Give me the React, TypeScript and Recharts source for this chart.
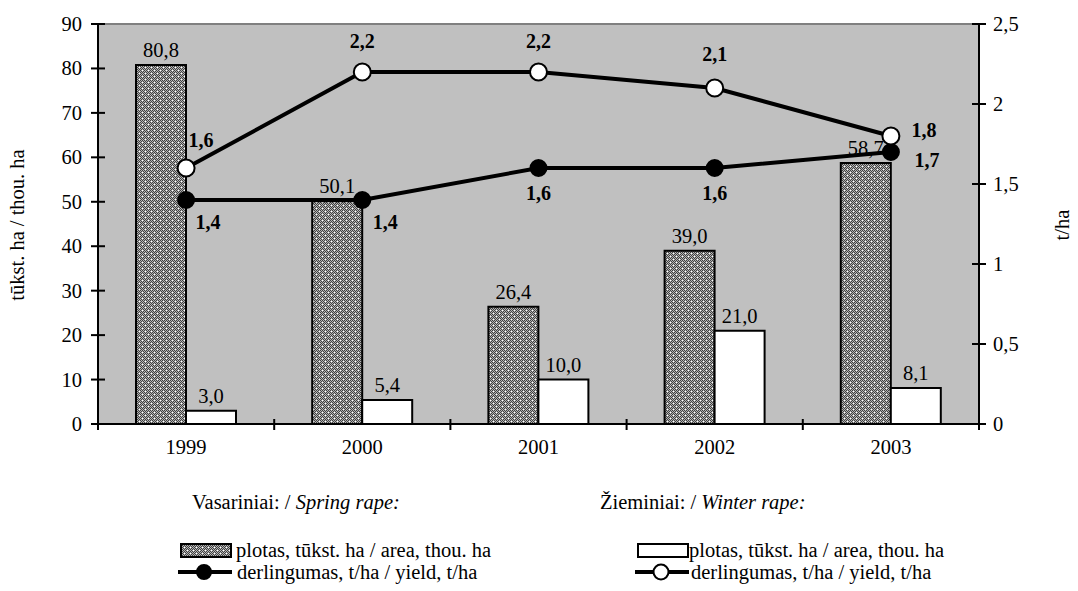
import {
  ComposedChart,
  Bar,
  Line,
  XAxis,
  YAxis,
  CartesianGrid,
  LabelList,
  ReferenceLine,
} from "recharts";

const YEARS = ["1999", "2000", "2001", "2002", "2003"];
const SPRING_AREA = [80.8, 50.1, 26.4, 39.0, 58.7];
const WINTER_AREA = [3.0, 5.4, 10.0, 21.0, 8.1];
const SPRING_YIELD = [1.4, 1.4, 1.6, 1.6, 1.7];
const WINTER_YIELD = [1.6, 2.2, 2.2, 2.1, 1.8];
const LEFT_TICKS = [0, 10, 20, 30, 40, 50, 60, 70, 80, 90];
const RIGHT_TICKS = [0, 0.5, 1, 1.5, 2, 2.5];

const data = YEARS.map((year, i) => ({
  year,
  springArea: SPRING_AREA[i],
  winterArea: WINTER_AREA[i],
  springYield: SPRING_YIELD[i],
  winterYield: WINTER_YIELD[i],
}));

const FONT = "'Liberation Serif', 'Times New Roman', serif";
const FS = 20.5;
const HALF_BAND = 881 / 5 / 2;

const comma = (v: number) => v.toFixed(1).replace(".", ",");
const commaTick = (v: number) => String(v).replace(".", ",");

// label nudges around the markers, per point
const SPRING_OFFS = [[22, 22], [23, 22], [0, 25], [0, 25], [36, 8]];
const WINTER_OFFS = [[15, -28], [0, -31], [0, -31], [0, -34], [33, -6]];

function pointLabel(offs: number[][]) {
  return (props: any) => {
    const { x, y, value, index } = props;
    const [dx, dy] = offs[index] || [0, 0];
    return (
      <text
        x={x + dx}
        y={y + dy}
        textAnchor="middle"
        dominantBaseline="central"
        fontFamily={FONT}
        fontSize={20}
        fontWeight="bold"
        fill="#000"
      >
        {comma(value)}
      </text>
    );
  };
}

function LeftTick(props: any) {
  const { x, y, payload } = props;
  const ax = x + 16;
  return (
    <g>
      <line x1={ax - 7} x2={ax + 7} y1={y} y2={y} stroke="#000" strokeWidth={2} />
      <text x={x} y={y} textAnchor="end" dominantBaseline="central" fontFamily={FONT} fontSize={FS} fill="#000">
        {payload.value}
      </text>
    </g>
  );
}

function RightTick(props: any) {
  const { x, y, payload } = props;
  const ax = x - 16;
  return (
    <g>
      <line x1={ax - 7} x2={ax + 7} y1={y} y2={y} stroke="#000" strokeWidth={2} />
      <text x={x - 2} y={y} textAnchor="start" dominantBaseline="central" fontFamily={FONT} fontSize={FS} fill="#000">
        {commaTick(payload.value)}
      </text>
    </g>
  );
}

function BottomTick(props: any) {
  const { x, y, payload, index } = props;
  const ay = y - 14;
  return (
    <g>
      {index === 0 && (
        <line x1={x - HALF_BAND} x2={x - HALF_BAND} y1={ay - 5} y2={ay + 6} stroke="#000" strokeWidth={2} />
      )}
      <line x1={x + HALF_BAND} x2={x + HALF_BAND} y1={ay - 5} y2={ay + 6} stroke="#000" strokeWidth={2} />
      <text x={x} y={y + 9} textAnchor="middle" dominantBaseline="central" fontFamily={FONT} fontSize={FS} fill="#000">
        {payload.value}
      </text>
    </g>
  );
}

function Dots({ id }: { id: string }) {
  const dark: number[][] = [];
  for (let r = 0; r < 6; r++) for (let c = 0; c < 6; c++) if ((r + c) % 2 === 0) dark.push([c, r]);
  return (
    <pattern id={id} patternUnits="userSpaceOnUse" width="6" height="6">
      <rect width="6" height="6" fill="#b4b4b4" />
      {dark.map(([c, r]) => (
        <rect key={`${c}-${r}`} x={c} y={r} width="1" height="1" fill="#404040" />
      ))}
      <rect x="1" y="1" width="1" height="1" fill="#ffffff" />
      <rect x="4" y="4" width="1" height="1" fill="#ffffff" />
    </pattern>
  );
}

const legendText: React.CSSProperties = {
  position: "absolute",
  fontFamily: FONT,
  fontSize: FS,
  lineHeight: "22px",
  whiteSpace: "nowrap",
  color: "#000",
};

function LegendLine({ filled }: { filled: boolean }) {
  return (
    <svg width="56" height="20" style={{ display: "block" }}>
      <line x1="1" x2="55" y1="10" y2="10" stroke="#000" strokeWidth="4" />
      <circle cx="27" cy="10" r={filled ? 7 : 7.5} fill={filled ? "#000" : "#fff"} stroke="#000" strokeWidth="2" />
    </svg>
  );
}

const axisLabel = (text: string, x: number) => () => (
  <text
    x={x}
    y={225}
    transform={`rotate(-90 ${x} 225)`}
    textAnchor="middle"
    dominantBaseline="central"
    fontFamily={FONT}
    fontSize={FS}
    fill="#000"
  >
    {text}
  </text>
);

export default function App() {
  return (
    <div style={{ position: "absolute", left: 0, top: 0, width: 1078, height: 591, background: "#fff" }}>
      <ComposedChart
        width={1078}
        height={470}
        data={data}
        margin={{ top: 24, right: 0, bottom: 0, left: 0 }}
        barGap={0}
      >
        <defs>
          <Dots id="springDots" />
        </defs>
        <CartesianGrid horizontal={false} vertical={false} fill="#c0c0c0" />
        <XAxis
          dataKey="year"
          height={46}
          tickSize={0}
          tickMargin={14}
          tickLine={false}
          axisLine={{ stroke: "#000", strokeWidth: 2 }}
          tick={<BottomTick />}
          interval={0}
        />
        <YAxis
          yAxisId="left"
          width={98}
          domain={[0, 90]}
          ticks={LEFT_TICKS}
          tickSize={0}
          tickMargin={16}
          tickLine={false}
          axisLine={{ stroke: "#000", strokeWidth: 2 }}
          tick={<LeftTick />}
          interval={0}
          label={{ content: axisLabel("tūkst. ha / thou. ha", 17) }}
        />
        <YAxis
          yAxisId="right"
          orientation="right"
          width={99}
          domain={[0, 2.5]}
          ticks={RIGHT_TICKS}
          tickSize={0}
          tickMargin={16}
          tickLine={false}
          axisLine={{ stroke: "#000", strokeWidth: 2 }}
          tick={<RightTick />}
          interval={0}
          label={{ content: axisLabel("t/ha", 1062) }}
        />
        <ReferenceLine yAxisId="left" y={90} stroke="#808080" strokeWidth={2} />
        <Bar
          yAxisId="left"
          dataKey="springArea"
          barSize={50}
          fill="url(#springDots)"
          stroke="#000"
          strokeWidth={2}
          isAnimationActive={false}
        >
          <LabelList
            dataKey="springArea"
            position="top"
            offset={8}
            formatter={(v: any) => comma(Number(v))}
            style={{ fontFamily: FONT, fontSize: FS, fill: "#000" }}
          />
        </Bar>
        <Bar
          yAxisId="left"
          dataKey="winterArea"
          barSize={50}
          fill="#fff"
          stroke="#000"
          strokeWidth={2}
          isAnimationActive={false}
        >
          <LabelList
            dataKey="winterArea"
            position="top"
            offset={8}
            formatter={(v: any) => comma(Number(v))}
            style={{ fontFamily: FONT, fontSize: FS, fill: "#000" }}
          />
        </Bar>
        <Line
          yAxisId="right"
          dataKey="springYield"
          stroke="#000"
          strokeWidth={4}
          dot={{ r: 8, fill: "#000", stroke: "#000", strokeWidth: 2 }}
          activeDot={false}
          isAnimationActive={false}
        >
          <LabelList dataKey="springYield" content={pointLabel(SPRING_OFFS)} />
        </Line>
        <Line
          yAxisId="right"
          dataKey="winterYield"
          stroke="#000"
          strokeWidth={4}
          dot={{ r: 8.5, fill: "#fff", stroke: "#000", strokeWidth: 2 }}
          activeDot={false}
          isAnimationActive={false}
        >
          <LabelList dataKey="winterYield" content={pointLabel(WINTER_OFFS)} />
        </Line>
      </ComposedChart>

      <div style={{ ...legendText, left: 192, top: 491 }}>
        Vasariniai: / <i>Spring rape:</i>
      </div>
      <div style={{ ...legendText, left: 600, top: 491 }}>
        Žieminiai: / <i>Winter rape:</i>
      </div>

      <svg width="52" height="15" style={{ position: "absolute", left: 180, top: 543 }}>
        <defs>
          <Dots id="legendDots" />
        </defs>
        <rect x="1" y="1" width="50" height="13" fill="url(#legendDots)" stroke="#000" strokeWidth="2" />
      </svg>
      <div style={{ ...legendText, left: 236, top: 539 }}>plotas, tūkst. ha / area, thou. ha</div>
      <div style={{ position: "absolute", left: 177, top: 562 }}>
        <LegendLine filled />
      </div>
      <div style={{ ...legendText, left: 237, top: 561 }}>derlingumas, t/ha / yield, t/ha</div>

      <svg width="52" height="15" style={{ position: "absolute", left: 637, top: 543 }}>
        <rect x="1" y="1" width="50" height="13" fill="#fff" stroke="#000" strokeWidth="2" />
      </svg>
      <div style={{ ...legendText, left: 689, top: 539 }}>plotas, tūkst. ha / area, thou. ha</div>
      <div style={{ position: "absolute", left: 634, top: 562 }}>
        <LegendLine filled={false} />
      </div>
      <div style={{ ...legendText, left: 691, top: 561 }}>derlingumas, t/ha / yield, t/ha</div>
    </div>
  );
}
